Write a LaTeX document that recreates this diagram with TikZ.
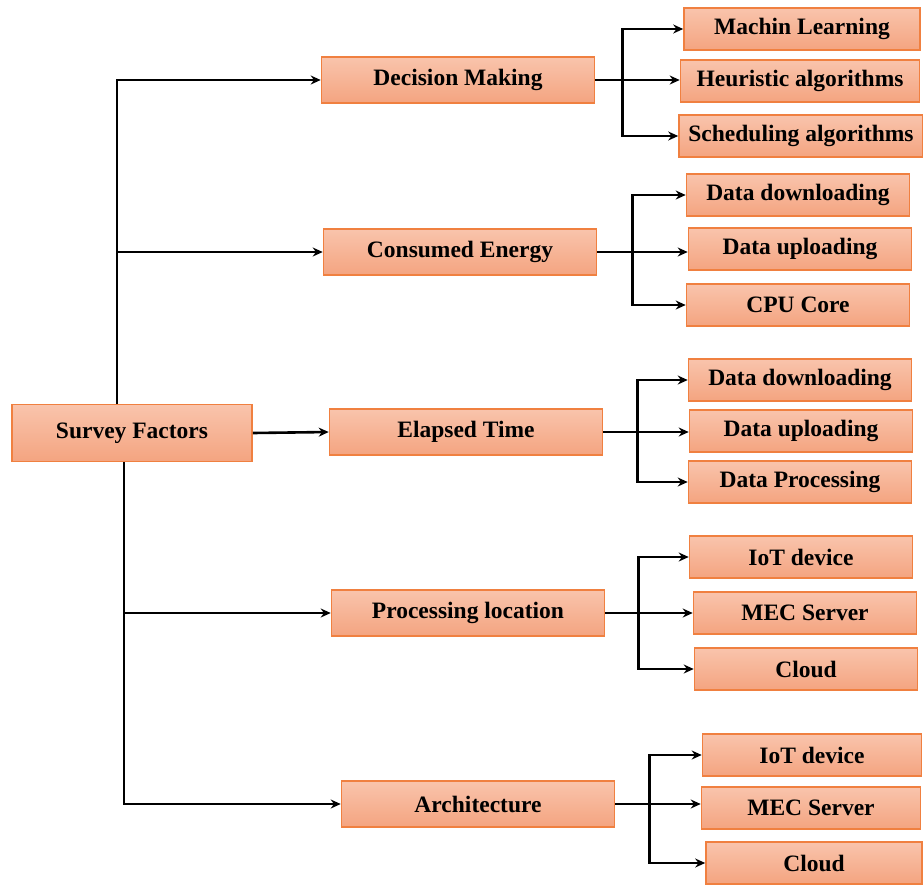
\documentclass[tikz,border=0pt]{standalone}
\usepackage{fontspec}
\setmainfont{Liberation Serif}
\usepackage{tikz}
\usetikzlibrary{arrows.meta}

\definecolor{boxtop}{RGB}{249,196,172}
\definecolor{boxbottom}{RGB}{244,164,128}
\definecolor{boxline}{RGB}{240,128,64}

\begin{document}
\begin{tikzpicture}[x=1pt, y=-1pt,
  box/.style = {shape=rectangle, draw=boxline, line width=1.6pt,
    top color=boxtop, bottom color=boxbottom, align=center,
    font=\fontsize{23.5}{27}\selectfont\bfseries},
  catbox/.style = {box, minimum width=273pt, minimum height=46pt},
  leafbox/.style = {box, minimum width=223pt, minimum height=42pt},
  arr/.style = {line width=2.6pt, -{Stealth[length=10pt,width=9pt]}}]
  \useasboundingbox (0,0) rectangle (923,884);

  % root and the five factors
  \node[box, minimum width=240pt, minimum height=57pt] (root) at (132,433) {Survey Factors};
  \node[catbox] (dm) at (458,80) {Decision Making};
  \node[catbox] (ce) at (460,252) {Consumed Energy};
  \node[catbox] (et) at (466,432) {Elapsed Time};
  \node[catbox] (pl) at (468,613) {Processing location};
  \node[catbox] (ar) at (478,804) {Architecture};

  % leaves
  \node[leafbox, minimum width=236pt] (dm1) at (802,29) {Machin Learning};
  \node[leafbox, minimum width=239pt] (dm2) at (800,81) {Heuristic algorithms};
  \node[leafbox, minimum width=244pt] (dm3) at (801,136) {Scheduling algorithms};
  \node[leafbox] (ce1) at (798,195) {Data downloading};
  \node[leafbox] (ce2) at (800,249) {Data uploading};
  \node[leafbox] (ce3) at (798,305) {CPU Core};
  \node[leafbox] (et1) at (800,380) {Data downloading};
  \node[leafbox] (et2) at (801,431) {Data uploading};
  \node[leafbox] (et3) at (800,482) {Data Processing};
  \node[leafbox] (pl1) at (801,557) {IoT device};
  \node[leafbox] (pl2) at (805,613) {MEC Server};
  \node[leafbox] (pl3) at (806,669) {Cloud};
  \node[leafbox, minimum width=219pt] (ar1) at (812,755) {IoT device};
  \node[leafbox, minimum width=219pt] (ar2) at (811,808) {MEC Server};
  \node[leafbox, minimum width=216pt] (ar3) at (814,863) {Cloud};

  % trunk
  \draw[arr] ([xshift=-15pt]root.north) |- (dm.west);
  \draw[arr] ([xshift=-15pt]root.north |- ce.west) -- (ce.west);
  \draw[arr] (root.east) -- (et.west);
  \draw[arr] ([xshift=-8pt]root.south) |- (ar.west);
  \draw[arr] ([xshift=-8pt]root.south |- pl.west) -- (pl.west);

  % brackets
  \foreach \c/\s in {dm/27, ce/35, et/34, pl/33, ar/34} {
    \draw[arr] (\c.east) -- (\c.east -| \c2.west);
    \draw[arr] ([xshift=\s pt]\c.east) |- (\c1.west);
    \draw[arr] ([xshift=\s pt]\c.east) |- (\c3.west);
  }
\end{tikzpicture}
\end{document}
